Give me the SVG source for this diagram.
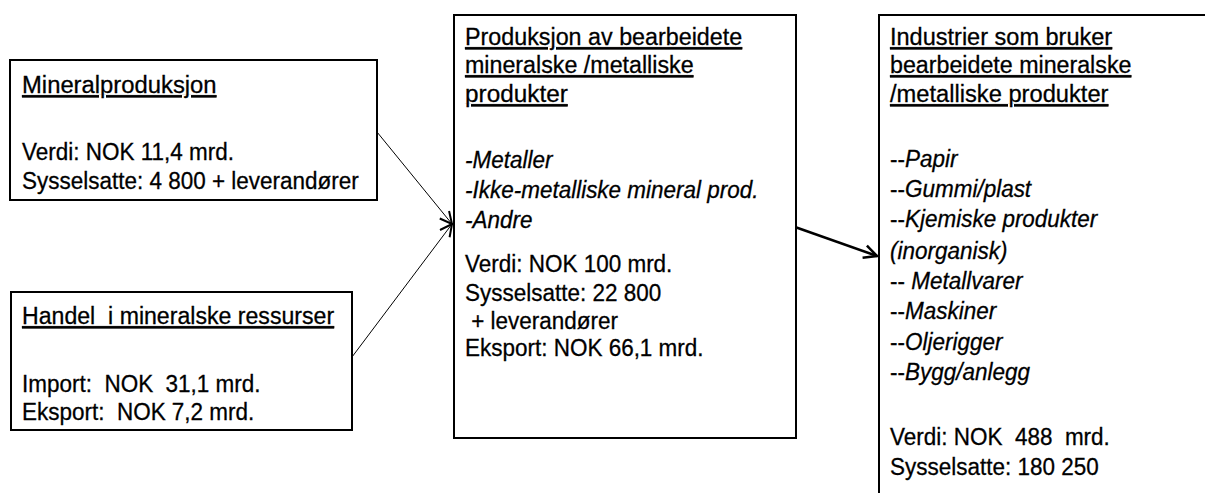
<svg xmlns="http://www.w3.org/2000/svg" width="1205" height="493" viewBox="0 0 1205 493">
<style>
  .box { fill: #ffffff; stroke: #000000; stroke-width: 2; }
  text { font-family: "Liberation Sans", Arial, sans-serif; font-size: 24.5px; fill: #000000; stroke: #000000; stroke-width: 0.3; white-space: pre; }
  .h { text-decoration: underline; }
  .i { font-style: italic; }
  .thin { stroke: #000000; stroke-width: 1; fill: none; }
  .thick { stroke: #000000; stroke-width: 2.5; fill: none; }
</style>
<defs>
  <marker id="arrowThin" markerUnits="userSpaceOnUse" viewBox="0 0 14 14" refX="13" refY="7" markerWidth="14" markerHeight="14" orient="auto">
    <path d="M1,1 L13,7 L1,13" fill="none" stroke="#000000" stroke-width="2"/>
  </marker>
  <marker id="arrowThick" markerUnits="userSpaceOnUse" viewBox="0 0 16 16" refX="14" refY="8" markerWidth="16" markerHeight="16" orient="auto">
    <path d="M1,1.5 L14,8 L1,14.5" fill="none" stroke="#000000" stroke-width="2.5"/>
  </marker>
</defs>

<g id="connectors">
  <line class="thin" x1="377" y1="132" x2="452" y2="224" marker-end="url(#arrowThin)"/>
  <line class="thin" x1="352" y1="357" x2="452" y2="224" marker-end="url(#arrowThin)"/>
  <line class="thick" x1="795" y1="227" x2="877" y2="256" marker-end="url(#arrowThick)"/>
</g>

<g id="node-mineralproduksjon">
  <rect class="box" x="10" y="60" width="367" height="140"/>
  <g transform="translate(22,0) scale(0.918,1)">
    <text class="h" x="0" y="93" textLength="212" lengthAdjust="spacingAndGlyphs">Mineralproduksjon</text>
    <text x="0" y="160">Verdi: NOK 11,4 mrd.</text>
    <text x="0" y="189">Sysselsatte: 4 800 + leverandører</text>
  </g>
</g>

<g id="node-handel">
  <rect class="box" x="11" y="292" width="341" height="138"/>
  <g transform="translate(22,0) scale(0.918,1)">
    <text class="h" x="0" y="324" textLength="340" lengthAdjust="spacingAndGlyphs">Handel  i mineralske ressurser</text>
    <text x="0" y="392">Import:  NOK  31,1 mrd.</text>
    <text x="0" y="420">Eksport:  NOK 7,2 mrd.</text>
  </g>
</g>

<g id="node-produksjon">
  <rect class="box" x="454" y="15" width="342" height="423"/>
  <g transform="translate(465,0) scale(0.918,1)">
    <text class="h" x="0" y="45" textLength="302" lengthAdjust="spacingAndGlyphs">Produksjon av bearbeidete</text>
    <text class="h" x="0" y="73" textLength="249" lengthAdjust="spacingAndGlyphs">mineralske /metalliske</text>
    <text class="h" x="0" y="102" textLength="112" lengthAdjust="spacingAndGlyphs">produkter</text>
    <text class="i" x="0" y="168">-Metaller</text>
    <text class="i" x="0" y="198">-Ikke-metalliske mineral prod.</text>
    <text class="i" x="0" y="228">-Andre</text>
    <text x="0" y="272">Verdi: NOK 100 mrd.</text>
    <text x="0" y="301">Sysselsatte: 22 800</text>
    <text x="0" y="329"> + leverandører</text>
    <text x="0" y="356">Eksport: NOK 66,1 mrd.</text>
  </g>
</g>

<g id="node-industrier">
  <path class="box" d="M879,494 L879,15 L1206,15" fill="none"/>
  <g transform="translate(890,0) scale(0.918,1)">
    <text class="h" x="0" y="45" textLength="242" lengthAdjust="spacingAndGlyphs">Industrier som bruker</text>
    <text class="h" x="0" y="73" textLength="263" lengthAdjust="spacingAndGlyphs">bearbeidete mineralske</text>
    <text class="h" x="0" y="102" textLength="238" lengthAdjust="spacingAndGlyphs">/metalliske produkter</text>
    <text x="0" y="167">--<tspan class="i">Papir</tspan></text>
    <text x="0" y="197">--<tspan class="i">Gummi/plast</tspan></text>
    <text x="0" y="227">--<tspan class="i">Kjemiske produkter</tspan></text>
    <text class="i" x="0" y="259">(inorganisk)</text>
    <text x="0" y="289">-- <tspan class="i">Metallvarer</tspan></text>
    <text x="0" y="319">--<tspan class="i">Maskiner</tspan></text>
    <text x="0" y="350">--<tspan class="i">Oljerigger</tspan></text>
    <text x="0" y="380">--<tspan class="i">Bygg/anlegg</tspan></text>
    <text x="0" y="445">Verdi: NOK  488  mrd.</text>
    <text x="0" y="475">Sysselsatte: 180 250</text>
  </g>
</g>
</svg>
